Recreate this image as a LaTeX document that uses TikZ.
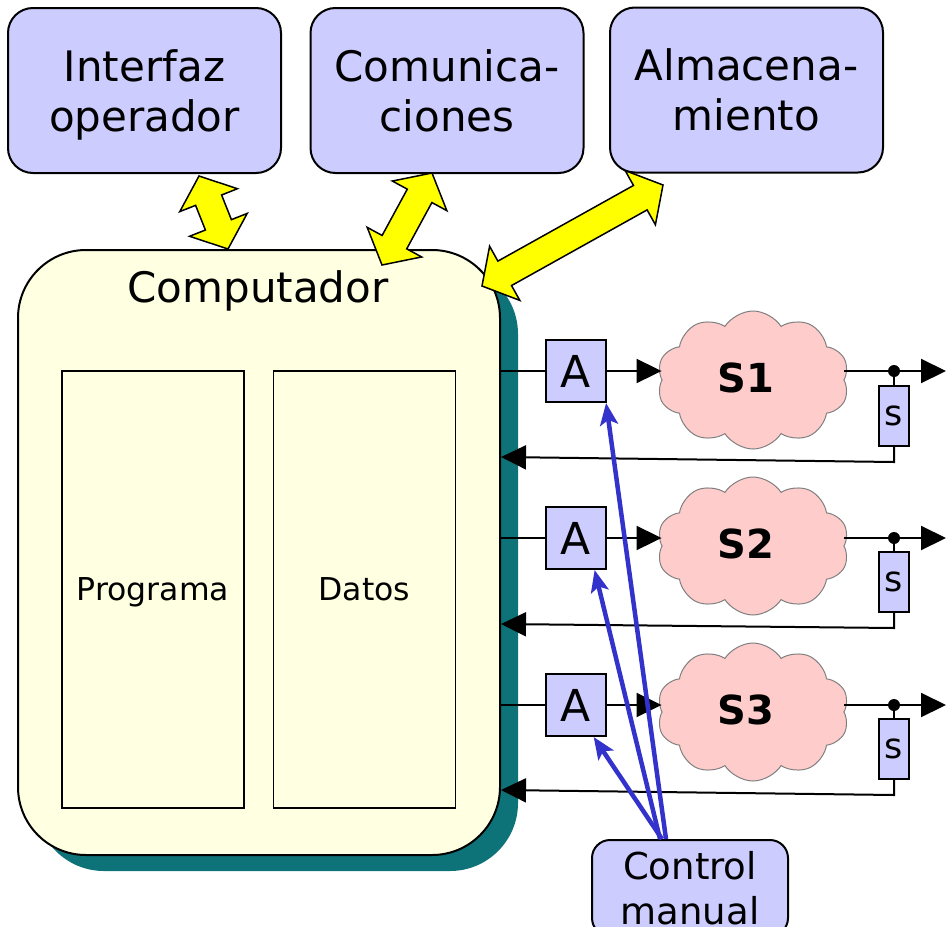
\documentclass[tikz,border=0pt]{standalone}
\usepackage{fontspec}
\setmainfont{DejaVu Sans}
\usetikzlibrary{calc,arrows.meta,shapes.symbols}

\definecolor{boxblue}{RGB}{204,204,255}
\definecolor{compfill}{RGB}{255,255,226}
\definecolor{shadowteal}{RGB}{14,115,120}
\definecolor{procpink}{RGB}{255,204,204}
\definecolor{ctlblue}{RGB}{51,51,204}
\definecolor{busyellow}{RGB}{255,255,0}

% double-headed block arrow between two coordinates
\newcommand\blockarrow[2]{%
  \filldraw[busarrow]
    (#1)
    -- ($($(#1)!26pt!(#2)$)!31pt!90:(#2)$)
    -- ($($(#1)!26pt!(#2)$)!14pt!90:(#2)$)
    -- ($($(#2)!26pt!(#1)$)!14pt!-90:(#1)$)
    -- ($($(#2)!26pt!(#1)$)!31pt!-90:(#1)$)
    -- (#2)
    -- ($($(#2)!26pt!(#1)$)!31pt!90:(#1)$)
    -- ($($(#2)!26pt!(#1)$)!14pt!90:(#1)$)
    -- ($($(#1)!26pt!(#2)$)!14pt!-90:(#2)$)
    -- ($($(#1)!26pt!(#2)$)!31pt!-90:(#2)$)
    -- cycle;}

\begin{document}
\begin{tikzpicture}[x=1pt,y=-1pt,
  topbox/.style={draw, line width=2pt, fill=boxblue, rounded corners=25pt,
    minimum width=273pt, minimum height=165pt, align=center, inner sep=0pt,
    text depth=0pt, font=\fontsize{42}{50}\selectfont},
  compbox/.style={draw, line width=2pt, fill=compfill, rounded corners=68pt,
    minimum width=482pt, minimum height=605pt},
  memory/.style={draw, line width=1.4pt, fill=compfill, minimum width=182pt,
    minimum height=437pt, inner sep=0pt, text height=22pt, text depth=0pt,
    font=\fontsize{31.5}{31.5}\selectfont},
  actuator/.style={draw, line width=2pt, fill=boxblue, minimum width=60pt,
    minimum height=62pt, inner sep=0pt, font=\fontsize{44}{44}\selectfont},
  process/.style={cloud, cloud puffs=10, cloud puff arc=115, cloud ignores aspect,
    minimum width=192pt, minimum height=138pt, fill=procpink, draw=gray,
    line width=1pt},
  proclabel/.style={font=\bfseries\fontsize{40}{40}\selectfont},
  sensor/.style={draw, line width=2pt, fill=boxblue, minimum width=30pt,
    minimum height=60pt, inner sep=0pt, font=\fontsize{35}{35}\selectfont},
  ctrl/.style={draw, line width=2pt, fill=boxblue, rounded corners=18pt,
    minimum width=196pt, minimum height=96pt, align=center, inner sep=0pt,
    font=\fontsize{37}{45}\selectfont},
  wire/.style={line width=2pt},
  sigtip/.style={-{Triangle[length=25pt,width=24pt]}},
  handwire/.style={ctlblue, line width=4.5pt, -{Stealth[length=22pt,width=18pt,inset=5pt]}},
  busarrow/.style={fill=busyellow, draw=black, line width=1.5pt, line join=miter},
]
\useasboundingbox (0,0) rectangle (947,926);
\clip (0,0) rectangle (947,926);

% peripheral units
\node[topbox] (iface) at (144.5,90.5) {Interfaz\\operador};
\node[topbox] (comms) at (447,90.5) {Comunica-\\ciones};
\node[topbox] (store) at (746.5,90) {Almacena-\\miento};

% computer with its solid shadow
\fill[shadowteal, rounded corners=68pt] (36,266) rectangle (518,871);
\node[compbox] (comp) at (259,552.5) {};
\node[font=\fontsize{42}{42}\selectfont, anchor=base] (comptitle) at (258,302) {Computador};
\node[memory] (prog) at (153,589.5) {Programa};
\node[memory] (data) at (364.5,589.5) {Datos};

% data buses
\coordinate (ya1) at (199,176);  \coordinate (yb1) at (228,249);
\coordinate (ya2) at (432,173);  \coordinate (yb2) at (382,265);
\coordinate (ya3) at (663,185);  \coordinate (yb3) at (482,286);
\blockarrow{ya1}{yb1}
\blockarrow{ya2}{yb2}
\blockarrow{ya3}{yb3}

% actuators, processes and sensors
\node[actuator] (a1) at (576,371) {A};
\node[actuator] (a2) at (576,538) {A};
\node[actuator] (a3) at (576,705) {A};
\node[process] (s1) at (753,380) {};
\node[process] (s2) at (753,546) {};
\node[process] (s3) at (753,712) {};
\node[proclabel] (n1) at (746,378) {S1};
\node[proclabel] (n2) at (746,544) {S2};
\node[proclabel] (n3) at (746,710) {S3};
\node[sensor] (t1) at (894,416) {s};
\node[sensor] (t2) at (894,582) {s};
\node[sensor] (t3) at (894,749) {s};

\coordinate (j1) at (894,371);  \coordinate (o1) at (946,371);
\coordinate (j2) at (894,538);  \coordinate (o2) at (946,538);
\coordinate (j3) at (894,705);  \coordinate (o3) at (946,705);
\coordinate (r1) at (894,462);  \coordinate (l1) at (501,457);
\coordinate (r2) at (894,628);  \coordinate (l2) at (501,624);
\coordinate (r3) at (894,795);  \coordinate (l3) at (501,790);

\foreach \i in {1,2,3}{
  \draw[wire] (comp.east |- a\i) -- (a\i.west);
  \draw[wire, sigtip] (a\i.east) -- (a\i.east -| s\i.west);
  \draw[wire, sigtip] (a\i.east -| s\i.east) -- (o\i);
  \draw[wire] (j\i) -- (t\i.north);
  \fill (j\i) circle (6pt);
  \draw[wire, sigtip] (t\i.south) -- (r\i) -- (l\i);
}

% manual control
\node[ctrl] (cm) at (690,888) {Control\\manual};
\draw[handwire] ($(cm.north west)+(75,0)$) -- ($(a1.south)!0.97!(a1.south east)$);
\draw[handwire] ($(cm.north west)+(69,0)$) -- ($(a2.south)!0.6!(a2.south east)$);
\draw[handwire] ($(cm.north west)+(71,0)$) -- ($(a3.south)!0.57!(a3.south east)$);
\end{tikzpicture}
\end{document}
